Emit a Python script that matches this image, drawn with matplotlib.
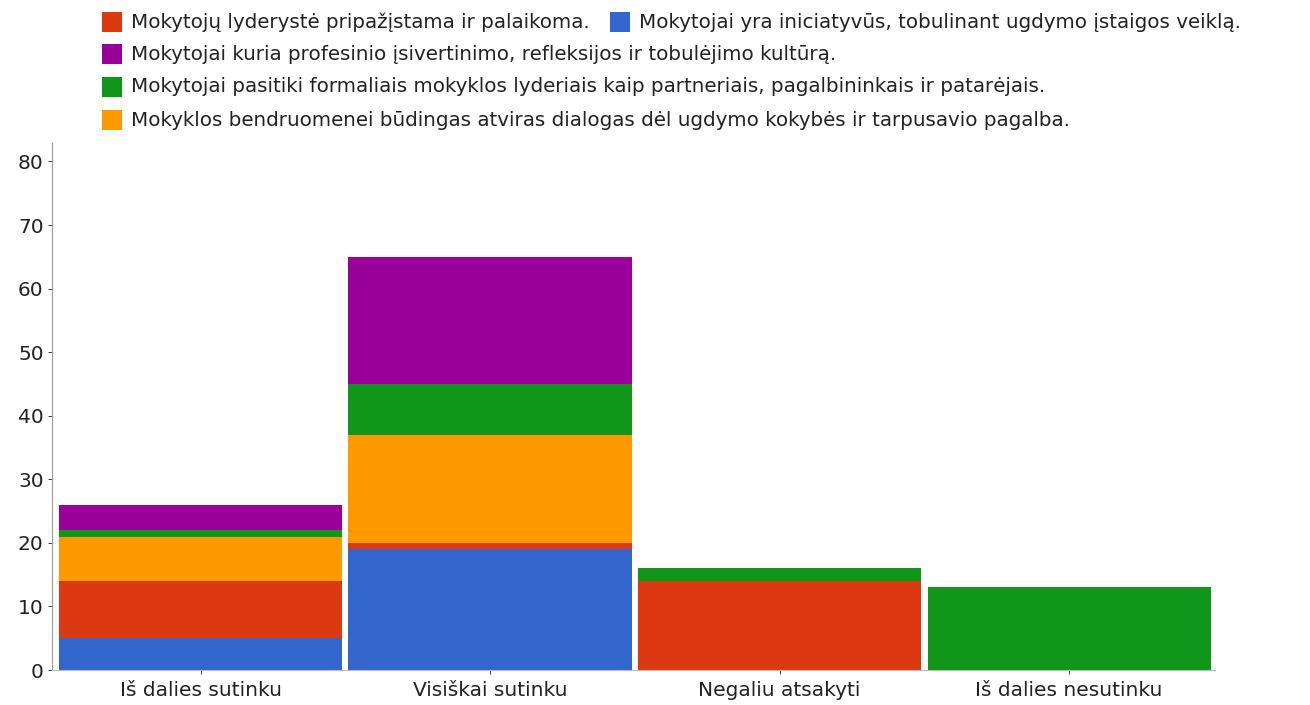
import numpy as np
import matplotlib
matplotlib.use("Agg")
import matplotlib.pyplot as plt
from matplotlib.patches import Rectangle

plt.rcParams['font.family'] = ['DejaVu Sans']

categories = ["Iš dalies sutinku", "Visiškai sutinku", "Negaliu atsakyti", "Iš dalies nesutinku"]

# series in stacking order (bottom to top)
blue_vals = [5, 19, 0, 0]
red_vals = [9, 1, 14, 0]
orange_vals = [7, 17, 0, 0]
green_vals = [1, 8, 2, 13]
purple_vals = [4, 20, 0, 0]

red_name = "Mokytojų lyderystė pripažįstama ir palaikoma."
blue_name = "Mokytojai yra iniciatyvūs, tobulinant ugdymo įstaigos veiklą."
purple_name = "Mokytojai kuria profesinio įsivertinimo, refleksijos ir tobulėjimo kultūrą."
green_name = "Mokytojai pasitiki formaliais mokyklos lyderiais kaip partneriais, pagalbininkais ir patarėjais."
orange_name = "Mokyklos bendruomenei būdingas atviras dialogas dėl ugdymo kokybės ir tarpusavio pagalba."

yticks = [0, 10, 20, 30, 40, 50, 60, 70, 80]

c_red = "#dc3912"
c_blue = "#3366cc"
c_purple = "#990099"
c_green = "#109618"
c_orange = "#ff9900"

W, H = 1310.0, 705.0
fig = plt.figure(figsize=(13.1, 7.05), dpi=100)
# axes box in pixels: x 52..1215, y 143..670
ax = fig.add_axes([52 / W, (H - 670) / H, 1163 / W, 527 / H])

x = np.arange(len(categories))
stack = [(blue_vals, c_blue), (red_vals, c_red), (orange_vals, c_orange),
         (green_vals, c_green), (purple_vals, c_purple)]
bottom = np.zeros(len(categories))
for vals, col in stack:
    v = np.array(vals, dtype=float)
    ax.bar(x, v, bottom=bottom, width=0.978, color=col, edgecolor="none")
    bottom += v

ax.set_xlim(-0.513, 3.504)
ax.set_ylim(0, 82.9)
ax.set_yticks(yticks)
ax.set_xticks(x)
ax.set_xticklabels(categories)
ax.tick_params(axis="both", labelsize=14.5, colors="#222222", length=3, width=0.6)
ax.tick_params(axis="x", pad=5)
ax.tick_params(axis="y", pad=3)
for t in ax.get_xticklines() + ax.get_yticklines():
    t.set_color("#999999")
ax.spines["top"].set_visible(False)
ax.spines["right"].set_visible(False)
ax.spines["left"].set_color("#999999")
ax.spines["bottom"].set_color("#bbbbbb")
ax.spines["left"].set_linewidth(0.8)
ax.spines["bottom"].set_linewidth(0.8)

# legend, laid out like the original (two entries in first row)
rows = [
    [(102, red_name, c_red), (610, blue_name, c_blue)],
    [(102, purple_name, c_purple)],
    [(102, green_name, c_green)],
    [(102, orange_name, c_orange)],
]
row_y = [22, 54, 87, 120]
for yc, row in zip(row_y, rows):
    for xl, name, col in row:
        fig.add_artist(Rectangle((xl / W, 1 - (yc + 10) / H), 20 / W, 20 / H,
                                 transform=fig.transFigure, color=col, lw=0))
        fig.text((xl + 29) / W, 1 - yc / H, name, fontsize=14.3, color="#222222",
                 va="center", ha="left")

fig.savefig("out.png", dpi=100, facecolor="white")
